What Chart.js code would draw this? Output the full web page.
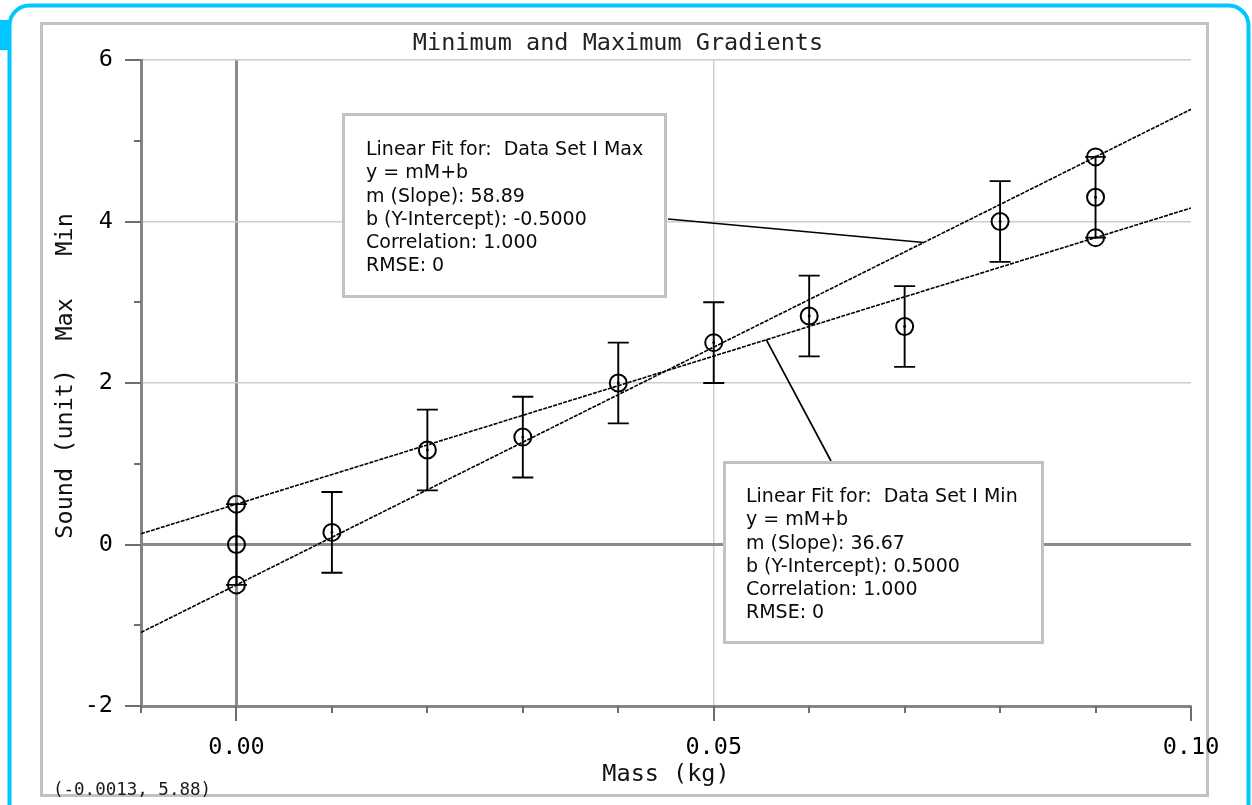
<!DOCTYPE html>
<html><head><meta charset="utf-8">
<script src="https://cdn.jsdelivr.net/npm/chart.js@4.4.1/dist/chart.umd.min.js"></script>
<style>html,body{margin:0;padding:0;background:#fff;overflow:hidden}canvas{display:block}</style>
</head><body><canvas id="c" width="1252" height="805"></canvas>
<script>
// ---- data ----
const massX    = [0.00, 0.01, 0.02, 0.03, 0.04, 0.05, 0.06, 0.07, 0.08, 0.09];
const soundY   = [0.00, 0.15, 1.17, 1.33, 2.00, 2.50, 2.83, 2.70, 4.00, 4.30];
const soundErr = [0.5, 0.5, 0.5, 0.5, 0.5, 0.5, 0.5, 0.5, 0.5, 0.5];
const maxX = [0.00, 0.09];
const maxY = [-0.5, 4.8];
const minX = [0.00, 0.09];
const minY = [0.5, 3.8];
const maxFitX = [-0.01, 0.10];
const maxFitY = [-1.089, 5.389];
const minFitX = [-0.01, 0.10];
const minFitY = [0.133, 4.167];
const yMajorTicks = [-2, 0, 2, 4, 6];
const yMinorTicks = [-1, 1, 3, 5];
const xMajorTicks = [0.00, 0.05, 0.10];
const xMinorTicks = [-0.01, 0.01, 0.02, 0.03, 0.04, 0.06, 0.07, 0.08, 0.09];
const maxFitText = ['Linear Fit for:  Data Set I Max', 'y = mM+b', 'm (Slope): 58.89', 'b (Y-Intercept): -0.5000', 'Correlation: 1.000', 'RMSE: 0'];
const minFitText = ['Linear Fit for:  Data Set I Min', 'y = mM+b', 'm (Slope): 36.67', 'b (Y-Intercept): 0.5000', 'Correlation: 1.000', 'RMSE: 0'];
const maxAnchor = [0.0720, 3.74];   // point on the Max fit where the leader line ends
const minAnchor = [0.0555, 2.537];  // point on the Min fit where the leader line ends
const readoutText = '(-0.0013, 5.88)';

const MONO = '"DejaVu Sans Mono", monospace';
const SANS = '"DejaVu Sans", sans-serif';
const toPts = (xs, ys) => xs.map((x, i) => ({x, y: ys[i]}));
const isMajorX = v => Math.abs(v * 20 - Math.round(v * 20)) < 1e-6;

const framePlugin = {
  id: 'frame',
  beforeDraw(chart) {
    const c = chart.ctx;
    c.save();
    c.fillStyle = '#fff';
    c.fillRect(0, 0, chart.width, chart.height);
    // cyan window border
    c.strokeStyle = '#00c8ff';
    c.lineWidth = 4;
    c.beginPath();
    c.roundRect(9.5, 5.5, 1239, 830, 20);
    c.stroke();
    c.fillStyle = '#00c8ff';
    c.fillRect(0, 20, 10, 30);
    // gray panel frame
    c.strokeStyle = '#c2c2c2';
    c.lineWidth = 3;
    c.strokeRect(41.5, 23.5, 1166, 772);
    c.restore();
  }
};

const overlayPlugin = {
  id: 'overlay',
  afterDatasetsDraw(chart) {
    const c = chart.ctx, xs = chart.scales.x, ys = chart.scales.y;
    c.save();
    // error bars
    c.strokeStyle = '#000';
    c.lineWidth = 1.9;
    massX.forEach((mx, i) => {
      const px = xs.getPixelForValue(mx);
      const t = ys.getPixelForValue(soundY[i] + soundErr[i]);
      const b = ys.getPixelForValue(soundY[i] - soundErr[i]);
      c.beginPath();
      c.moveTo(px, t); c.lineTo(px, b);
      c.moveTo(px - 10.5, t); c.lineTo(px + 10.5, t);
      c.moveTo(px - 10.5, b); c.lineTo(px + 10.5, b);
      c.stroke();
    });
    // centre dots of the markers
    c.fillStyle = '#000';
    [2, 3, 4].forEach(di => {
      chart.getDatasetMeta(di).data.forEach(el => {
        c.beginPath();
        c.arc(el.x, el.y, 1.4, 0, Math.PI * 2);
        c.fill();
      });
    });
    c.restore();
  },
  afterDraw(chart) {
    const c = chart.ctx, xs = chart.scales.x, ys = chart.scales.y, a = chart.chartArea;
    c.save();
    // axis tick marks
    c.strokeStyle = '#6e6e6e';
    c.lineWidth = 2;
    c.beginPath();
    yMajorTicks.forEach(v => { const p = Math.round(ys.getPixelForValue(v)); c.moveTo(a.left - 16, p); c.lineTo(a.left, p); });
    yMinorTicks.forEach(v => { const p = Math.round(ys.getPixelForValue(v)); c.moveTo(a.left - 7, p); c.lineTo(a.left, p); });
    xMajorTicks.forEach(v => { const p = Math.round(xs.getPixelForValue(v)); c.moveTo(p, a.bottom); c.lineTo(p, a.bottom + 15); });
    xMinorTicks.forEach(v => { const p = Math.round(xs.getPixelForValue(v)); c.moveTo(p, a.bottom); c.lineTo(p, a.bottom + 7); });
    c.stroke();

    // leader lines
    c.strokeStyle = '#000';
    c.lineWidth = 1.7;
    c.beginPath();
    c.moveTo(668, 219);
    c.lineTo(xs.getPixelForValue(maxAnchor[0]), ys.getPixelForValue(maxAnchor[1]));
    c.moveTo(xs.getPixelForValue(minAnchor[0]), ys.getPixelForValue(minAnchor[1]));
    c.lineTo(831, 461);
    c.stroke();

    // fit boxes
    const box = (x, y, w, h, lines, tx, ty) => {
      c.fillStyle = '#fff';
      c.fillRect(x, y, w, h);
      c.strokeStyle = '#c2c2c2';
      c.lineWidth = 3;
      c.strokeRect(x, y, w, h);
      c.fillStyle = '#0a0a0a';
      c.font = '19px ' + SANS;
      c.textAlign = 'left';
      c.textBaseline = 'middle';
      lines.forEach((s, i) => c.fillText(s, tx, ty + i * 23.3));
    };
    box(343.5, 114.5, 322, 182, maxFitText, 366, 150);
    box(724.5, 462.5, 318, 180, minFitText, 746, 497);

    // coordinate readout
    c.fillStyle = '#1a1a1a';
    c.font = '17.5px ' + MONO;
    c.textAlign = 'left';
    c.textBaseline = 'middle';
    c.fillText(readoutText, 53, 790);
    c.restore();
  }
};

const markerStyle = {
  pointRadius: 8.5, pointStyle: 'circle', pointBorderColor: '#000',
  pointBackgroundColor: 'rgba(0,0,0,0)', pointBorderWidth: 2, showLine: false
};

new Chart(document.getElementById('c'), {
  type: 'scatter',
  data: {
    datasets: [
      {label: 'Max fit', data: toPts(maxFitX, maxFitY), showLine: true, borderColor: '#000', borderWidth: 1.6, borderDash: [4, 1.2], pointRadius: 0, fill: false},
      {label: 'Min fit', data: toPts(minFitX, minFitY), showLine: true, borderColor: '#000', borderWidth: 1.6, borderDash: [4, 1.2], pointRadius: 0, fill: false},
      Object.assign({label: 'Data Set', data: toPts(massX, soundY)}, markerStyle),
      Object.assign({label: 'Max', data: toPts(maxX, maxY)}, markerStyle),
      Object.assign({label: 'Min', data: toPts(minX, minY)}, markerStyle)
    ]
  },
  options: {
    responsive: false,
    animation: false,
    events: [],
    layout: {padding: {left: 45, right: 61, top: 24, bottom: 8}},
    plugins: {
      legend: {display: false},
      tooltip: {enabled: false},
      title: {
        display: true, text: 'Minimum and Maximum Gradients', color: '#222',
        font: {family: MONO, size: 23.5, weight: 'normal'},
        padding: {top: 6, bottom: 1.8}
      }
    },
    scales: {
      x: {
        type: 'linear', min: -0.01, max: 0.10,
        afterFit: s => { s.height = 91; },
        ticks: {
          stepSize: 0.01, autoSkip: false, maxRotation: 0, minRotation: 0, padding: 28,
          color: '#000', font: {family: MONO, size: 23.5},
          callback: v => isMajorX(v) ? v.toFixed(2) : ''
        },
        grid: {
          drawTicks: false,
          color: ctx => { const v = ctx.tick.value; if (Math.abs(v) < 1e-9) return '#8a8a8a'; if (Math.abs(v - 0.05) < 1e-9) return '#cdcdcd'; return 'rgba(0,0,0,0)'; },
          lineWidth: ctx => Math.abs(ctx.tick.value) < 1e-9 ? 3 : 1.5
        },
        border: {display: true, color: '#858585', width: 3},
        title: {display: true, text: 'Mass (kg)', color: '#111', font: {family: MONO, size: 23.5}, padding: {top: 0, bottom: 8}}
      },
      y: {
        type: 'linear', min: -2, max: 6,
        afterFit: s => { s.width = 96; },
        ticks: {stepSize: 2, padding: 28, color: '#000', font: {family: MONO, size: 23.5}},
        grid: {
          drawTicks: false,
          color: ctx => { const v = ctx.tick.value; if (v === 0) return '#8a8a8a'; if (v === -2) return 'rgba(0,0,0,0)'; return '#cdcdcd'; },
          lineWidth: ctx => ctx.tick.value === 0 ? 3 : 1.5
        },
        border: {display: true, color: '#858585', width: 3},
        title: {display: true, text: ' Sound (unit)  Max   Min', color: '#111', font: {family: MONO, size: 23.5}, padding: {top: 7, bottom: 0}}
      }
    }
  },
  plugins: [framePlugin, overlayPlugin]
});
</script>
</body></html>
